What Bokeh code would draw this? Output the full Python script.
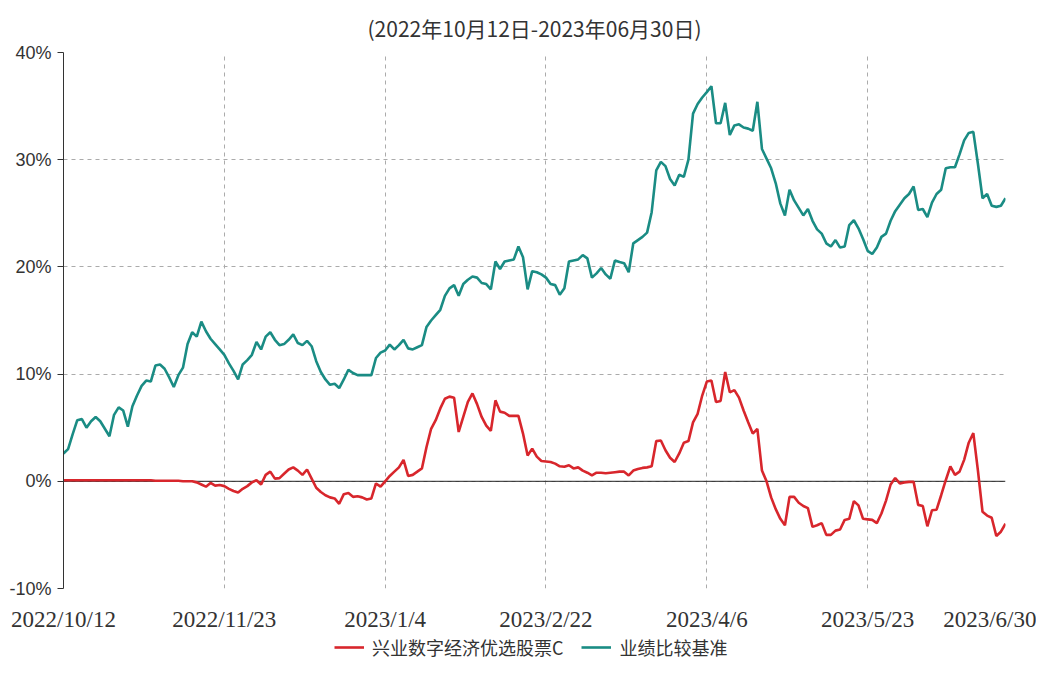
from bokeh.plotting import figure
from bokeh.layouts import column
from bokeh.models import Range1d, FixedTicker, Span, Legend, LegendItem
from bokeh.embed import file_html
from bokeh.resources import INLINE

title_text = "(2022年10月12日-2023年06月30日)"
series_names = ["兴业数字经济优选股票C", "业绩比较基准"]

tick_idx = [0, 35, 70, 105, 140, 175, 205]
tick_labels = ["2022/10/12", "2022/11/23", "2023/1/4", "2023/2/22",
               "2023/4/6", "2023/5/23", "2023/6/30"]
y_ticks = [-10, 0, 10, 20, 30, 40]
y_labels = ["-10%", "0%", "10%", "20%", "30%", "40%"]

# 兴业数字经济优选股票C (%)
fund = [
    0.1, 0.1, 0.1, 0.1, 0.1, 0.1, 0.1, 0.1, 0.1, 0.1,
    0.1, 0.1, 0.1, 0.1, 0.1, 0.1, 0.1, 0.1, 0.1, 0.1,
    0.05, 0.05, 0.05, 0.05, 0.05, 0.05, 0.0, 0.0, 0.0, -0.1,
    -0.3, -0.5, -0.15, -0.4, -0.35, -0.45, -0.7, -0.9, -1.05, -0.7,
    -0.45, -0.1, 0.1, -0.3, 0.6, 0.9, 0.25, 0.3, 0.7, 1.1,
    1.3, 1.0, 0.6, 1.1, 0.25, -0.6, -1.0, -1.3, -1.5, -1.6,
    -2.1, -1.2, -1.1, -1.45, -1.4, -1.5, -1.7, -1.6, -0.2, -0.5,
    0.0, 0.5, 0.9, 1.3, 2.0, 0.5, 0.6, 0.9, 1.2, 3.2,
    4.9, 5.7, 6.8, 7.7, 7.9, 7.8, 4.6, 6.0, 7.4, 8.2,
    7.2, 6.0, 5.2, 4.7, 7.55, 6.5, 6.4, 6.1, 6.1, 6.1,
    4.45, 2.4, 3.05, 2.3, 1.9, 1.85, 1.8, 1.65, 1.4, 1.35,
    1.5, 1.2, 1.3, 1.0, 0.8, 0.55, 0.8, 0.8, 0.75, 0.8,
    0.85, 0.9, 0.9, 0.55, 1.0, 1.15, 1.25, 1.3, 1.4, 3.75,
    3.8, 2.9, 2.2, 1.8, 2.6, 3.6, 3.75, 5.5, 6.3, 8.0,
    9.3, 9.4, 7.4, 7.5, 10.2, 8.3, 8.5, 7.8, 6.6, 5.5,
    4.45, 4.9, 1.0, 0.0, -1.5, -2.6, -3.5, -4.1, -1.45, -1.45,
    -2.0, -2.3, -2.5, -4.25, -4.1, -3.9, -5.0, -5.0, -4.6, -4.5,
    -3.6, -3.5, -1.85, -2.25, -3.5, -3.55, -3.6, -3.9, -3.0, -1.8,
    -0.3, 0.3, -0.2, -0.1, -0.05, -0.05, -2.2, -2.3, -4.2, -2.7,
    -2.65, -1.3, 0.1, 1.4, 0.6, 0.9, 2.0, 3.6, 4.5, 1.0,
    -2.85, -3.2, -3.4, -5.1, -4.7, -3.95,
]

# 业绩比较基准 (%)
bench = [
    2.6, 3.0, 4.4, 5.7, 5.8, 5.0, 5.6, 6.0, 5.6, 4.9,
    4.2, 6.2, 6.9, 6.6, 5.1, 7.0, 8.0, 8.9, 9.4, 9.3,
    10.8, 10.9, 10.5, 9.7, 8.8, 9.9, 10.6, 12.8, 13.9, 13.5,
    14.9, 14.0, 13.3, 12.8, 12.3, 11.8, 11.0, 10.3, 9.5, 10.9,
    11.3, 11.8, 13.0, 12.3, 13.5, 13.9, 13.2, 12.7, 12.8, 13.2,
    13.7, 12.9, 12.7, 13.1, 12.6, 11.2, 10.2, 9.5, 9.0, 9.1,
    8.7, 9.5, 10.4, 10.1, 9.9, 9.9, 9.9, 9.9, 11.5, 12.0,
    12.2, 12.75, 12.3, 12.7, 13.2, 12.4, 12.3, 12.5, 12.7, 14.4,
    15.0, 15.5, 16.0, 17.3, 18.0, 18.3, 17.3, 18.4, 18.8, 19.1,
    19.0, 18.5, 18.4, 17.9, 20.5, 19.8, 20.5, 20.6, 20.7, 21.9,
    20.9, 17.9, 19.6, 19.5, 19.3, 19.0, 18.4, 18.3, 17.4, 18.0,
    20.5, 20.6, 20.7, 21.1, 20.8, 19.0, 19.4, 19.9, 19.3, 18.9,
    20.6, 20.45, 20.35, 19.5, 22.2, 22.5, 22.8, 23.2, 25.1, 29.0,
    29.8, 29.4, 28.2, 27.6, 28.6, 28.4, 30.0, 34.3, 35.2, 35.8,
    36.3, 36.85, 33.4, 33.4, 35.3, 32.3, 33.2, 33.3, 33.0, 32.9,
    32.7, 35.4, 31.0, 30.1, 29.2, 27.8, 25.9, 24.8, 27.2, 26.2,
    25.5, 24.8, 25.4, 24.3, 23.5, 23.1, 22.2, 21.9, 22.5, 21.8,
    21.9, 23.9, 24.35, 23.6, 22.6, 21.5, 21.2, 21.8, 22.8, 23.1,
    24.3, 25.2, 25.8, 26.4, 26.8, 27.5, 25.3, 25.4, 24.65, 26.0,
    26.8, 27.2, 29.2, 29.3, 29.3, 30.5, 31.8, 32.5, 32.6, 29.6,
    26.4, 26.8, 25.7, 25.6, 25.7, 26.4,
]

x = list(range(len(fund)))

RED = "#d8262c"
TEAL = "#1a8c84"

p = figure(width=1036, height=634, output_backend="svg", toolbar_location=None,
           x_range=Range1d(tick_idx[0], tick_idx[-1]), y_range=Range1d(-10, 40),
           min_border_left=63, min_border_right=31, min_border_top=51,
           min_border_bottom=46)
p.outline_line_color = None
p.background_fill_color = "white"

p.title.text = title_text
p.title.align = "center"
p.title.text_font = "Noto Sans CJK SC"
p.title.text_font_size = "21px"
p.title.text_font_style = "normal"
p.title.text_color = "#333333"
p.title.standoff = 20

for g in (p.xgrid, p.ygrid):
    g.grid_line_color = "#ababab"
    g.grid_line_dash = "4 4"
    g.grid_line_width = 1

xa = p.xaxis[0]
xa.ticker = FixedTicker(ticks=tick_idx)
xa.major_label_overrides = dict(zip(tick_idx, tick_labels))
xa.axis_line_color = None
xa.major_tick_line_color = None
xa.minor_tick_line_color = None
xa.major_label_text_font = "Liberation Sans Narrow"
xa.major_label_text_font_size = "23px"
xa.major_label_text_color = "#333333"
xa.major_label_standoff = 12

ya = p.yaxis[0]
ya.ticker = FixedTicker(ticks=y_ticks)
ya.major_label_overrides = dict(zip(y_ticks, y_labels))
ya.axis_line_color = "#333333"
ya.major_tick_line_color = "#333333"
ya.major_tick_out = 6
ya.major_tick_in = 0
ya.minor_tick_line_color = None
ya.major_label_text_font = "Liberation Sans"
ya.major_label_text_font_size = "18px"
ya.major_label_text_color = "#333333"
ya.major_label_standoff = 6

zero = Span(location=0, dimension="width", line_color="#222222", line_width=1,
            level="underlay")
p.add_layout(zero)

p.line(x, fund, line_color=RED, line_width=2.6)
p.line(x, bench, line_color=TEAL, line_width=2.6)

# legend strip below the chart (single-point lines only feed the legend swatches)
lg = figure(width=1036, height=30, output_backend="svg", toolbar_location=None,
            x_axis_type=None, y_axis_type=None, min_border=0,
            x_range=Range1d(10, 11), y_range=Range1d(10, 11))
lg.outline_line_color = None
lg.xgrid.visible = False
lg.ygrid.visible = False
l1 = lg.line(x[:1], fund[:1], line_color=RED, line_width=2.6)
l2 = lg.line(x[:1], bench[:1], line_color=TEAL, line_width=2.6)
legend = Legend(items=[LegendItem(label=series_names[0], renderers=[l1]),
                       LegendItem(label=series_names[1], renderers=[l2])],
                orientation="horizontal", location=(271, 4),
                border_line_color=None, background_fill_alpha=0,
                padding=0, margin=0, spacing=18, glyph_width=30,
                glyph_height=20, label_standoff=8, label_height=20,
                label_text_font="Noto Sans CJK SC", label_text_font_size="18px",
                label_text_color="#333333")
lg.add_layout(legend)

open("out.html", "w").write(file_html(column(p, lg, spacing=0), INLINE))
